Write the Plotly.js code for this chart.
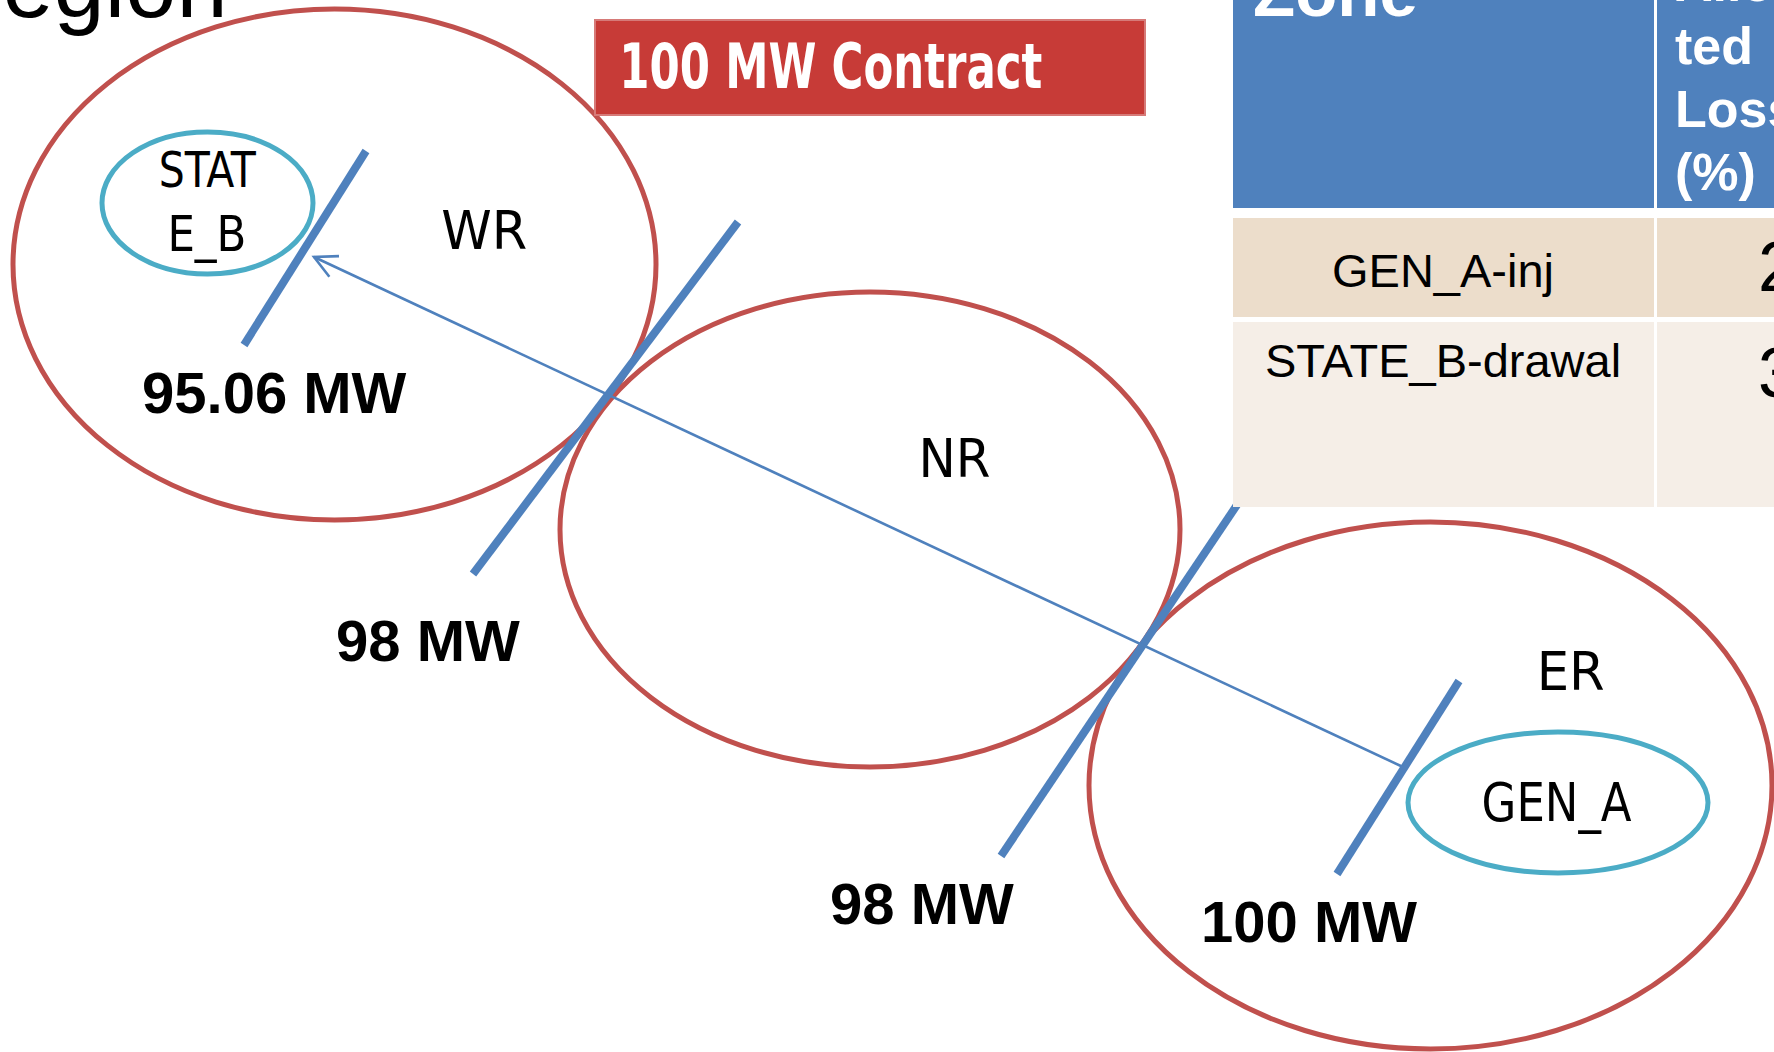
<!DOCTYPE html>
<html><head><meta charset="utf-8">
<script src="https://cdn.plot.ly/plotly-3.0.1.min.js"></script>
<style>html,body{margin:0;padding:0;background:#fff;overflow:hidden}#chart{width:1774px;height:1052px}</style>
</head><body><div id="chart"></div>
<script>
// ---------------- data ----------------
const slideTitle = "Region";
const contractLabel = "100 MW Contract";
const regionNames = ["WR", "NR", "ER"];
const entityNames = ["STATE_B", "GEN_A"];
const flowValues = [95.06, 98, 98, 100];
const flowUnit = "MW";
const zoneHeader = "Zone";
const lossHeaderLines = ["Alloca", "ted", "Loss", "(%)"];
const tableZones = ["GEN_A-inj", "STATE_B-drawal"];
const tableLosses = ["2", "3"];

// ---------------- layout geometry (page pixels) ----------------
const W = 1774, H = 1052;
const regionBoxes = [[13, 9, 656, 520], [560, 292, 1180, 767], [1089, 522, 1772, 1049]];
const entityBoxes = [[102, 132, 313, 274], [1408, 732, 1708, 873]];
const cutLines = [[366, 151, 244, 345], [738, 222, 473, 574], [1245, 493, 1001, 856], [1459, 681, 1337, 874]];
const regionLabelPos = [[484, 230, 86], [954, 458, 72], [1570, 671, 68]];   // x, y, text width
const entityLabelLines = [[[207, 170, 97], [207, 234, 79]], [[1557, 803, 150]]];
const entityWrap = [4, 99];
const flowLabelPos = [[274, 392], [428, 640], [922, 903], [1309, 921]];
const arrowTail = [1403, 767], arrowTip = [314, 257];
const contractBox = [595, 20, 1145, 115];
const tbl = {x0: 1233, xDiv0: 1654, xDiv1: 1657, x1: 1800, header: [-10, 208], rows: [[218, 317], [322, 507]]};

const RED = "#C0504D", CYAN = "#4BACC6", BLUE = "#4F81BD";
const NARROW = "DejaVu Sans Condensed, Liberation Sans Narrow, Liberation Sans, sans-serif";
const SANS = "Liberation Sans, Arial, sans-serif";

const shapes = [];
const ann = [];
const squeeze = {};   // annotation index -> target width

function ellipse(b, color) {
  shapes.push({type: "circle", xref: "x", yref: "y", x0: b[0], y0: b[1], x1: b[2], y1: b[3],
    line: {color: color, width: 5}, fillcolor: "rgba(0,0,0,0)"});
}
regionBoxes.forEach(b => ellipse(b, RED));
entityBoxes.forEach(b => ellipse(b, CYAN));

cutLines.forEach(l => shapes.push({type: "line", xref: "x", yref: "y", x0: l[0], y0: l[1], x1: l[2], y1: l[3],
  line: {color: BLUE, width: 8}}));

// arrow shaft + open head
shapes.push({type: "line", xref: "x", yref: "y", x0: arrowTail[0], y0: arrowTail[1], x1: arrowTip[0], y1: arrowTip[1],
  line: {color: BLUE, width: 2.6}});
(function () {
  const dx = arrowTail[0] - arrowTip[0], dy = arrowTail[1] - arrowTip[1];
  const a = Math.atan2(dy, dx), len = 25, spread = 27 * Math.PI / 180;
  const p1 = [arrowTip[0] + len * Math.cos(a - spread), arrowTip[1] + len * Math.sin(a - spread)];
  const p2 = [arrowTip[0] + len * Math.cos(a + spread), arrowTip[1] + len * Math.sin(a + spread)];
  shapes.push({type: "path", xref: "x", yref: "y",
    path: `M${p1[0]},${p1[1]} L${arrowTip[0]},${arrowTip[1]} L${p2[0]},${p2[1]}`,
    line: {color: BLUE, width: 2.6}});
})();

// contract box
shapes.push({type: "rect", xref: "x", yref: "y", x0: contractBox[0], y0: contractBox[1], x1: contractBox[2], y1: contractBox[3],
  fillcolor: "#C73B37", line: {color: "#D67A78", width: 2}});

// table
function rect(x0, y0, x1, y1, c) {
  shapes.push({type: "rect", xref: "x", yref: "y", x0, y0, x1, y1, fillcolor: c, line: {width: 0}});
}
rect(tbl.x0, tbl.header[0], tbl.xDiv0, tbl.header[1], BLUE);
rect(tbl.xDiv1, tbl.header[0], tbl.x1, tbl.header[1], BLUE);
const rowColors = ["#ECDDCB", "#F5EEE7"];
tbl.rows.forEach((r, i) => {
  rect(tbl.x0, r[0], tbl.xDiv0, r[1], rowColors[i]);
  rect(tbl.xDiv1, r[0], tbl.x1, r[1], rowColors[i]);
});

// ---------------- text ----------------
function text(t, x, y, size, opts, width) {
  if (width) squeeze[ann.length] = width;
  ann.push(Object.assign({text: t, x: x, y: y, xref: "x", yref: "y", showarrow: false,
    xanchor: "center", yanchor: "middle", borderpad: 0,
    font: {family: NARROW, size: size, color: "#000"}}, opts || {}));
}
// slide title (baseline ~17)
text(slideTitle, 229, 17 + 0.212 * 92, 92, {xanchor: "right", yanchor: "bottom", font: {family: SANS, size: 92, color: "#000"}});

regionNames.forEach((n, i) => text(n, regionLabelPos[i][0], regionLabelPos[i][1], 53, null, regionLabelPos[i][2]));
entityNames.forEach((n, i) => {
  const lines = [];
  for (let k = 0; k < n.length; k += entityWrap[i]) lines.push(n.slice(k, k + entityWrap[i]));
  lines.forEach((ln, j) => {
    const p = entityLabelLines[i][j];
    text(ln, p[0], p[1], i === 0 ? 50 : 53, null, p[2]);
  });
});
flowValues.forEach((v, i) => text(v + " " + flowUnit, flowLabelPos[i][0], flowLabelPos[i][1], 58,
  {font: {family: SANS, size: 58, color: "#000", weight: "bold"}}));

text(contractLabel, 831, 66, 63, {font: {family: NARROW, size: 63, color: "#fff", weight: "bold"}}, 423);

// table text
text(zoneHeader, 1252, 17 + 0.212 * 69, 69, {xanchor: "left", yanchor: "bottom", font: {family: SANS, size: 69, color: "#fff", weight: "bold"}});
const headBaselines = [2, 65, 128, 191];
lossHeaderLines.forEach((l, i) => text(l, 1674, headBaselines[i] + 0.212 * 52, 52,
  {xanchor: "left", yanchor: "bottom", font: {family: SANS, size: 52, color: "#fff", weight: "bold"}}));
const zoneY = [270, 360], lossY = [267, 373];
tableZones.forEach((z, i) => text(z, 1443, zoneY[i], 47, {font: {family: SANS, size: 47, color: "#000"}}));
tableLosses.forEach((v, i) => text(v, 1757, lossY[i], 70, {xanchor: "left", font: {family: SANS, size: 70, color: "#000"}}));

const layout = {
  width: W, height: H, margin: {l: 0, r: 0, t: 0, b: 0, pad: 0},
  paper_bgcolor: "#fff", plot_bgcolor: "#fff", showlegend: false,
  xaxis: {range: [0, W], visible: false, fixedrange: true},
  yaxis: {range: [H, 0], visible: false, fixedrange: true},
  shapes: shapes, annotations: ann
};
Plotly.newPlot("chart", [{x: [], y: [], type: "scatter"}], layout, {displayModeBar: false, staticPlot: true})
  .then(gd => {
    Object.keys(squeeze).forEach(idx => {
      const t = gd.querySelector('g.annotation[data-index="' + idx + '"] text.annotation-text');
      if (t) {
        t.setAttribute("textLength", squeeze[idx]);
        t.setAttribute("lengthAdjust", "spacingAndGlyphs");
      }
    });
  });
</script></body></html>
